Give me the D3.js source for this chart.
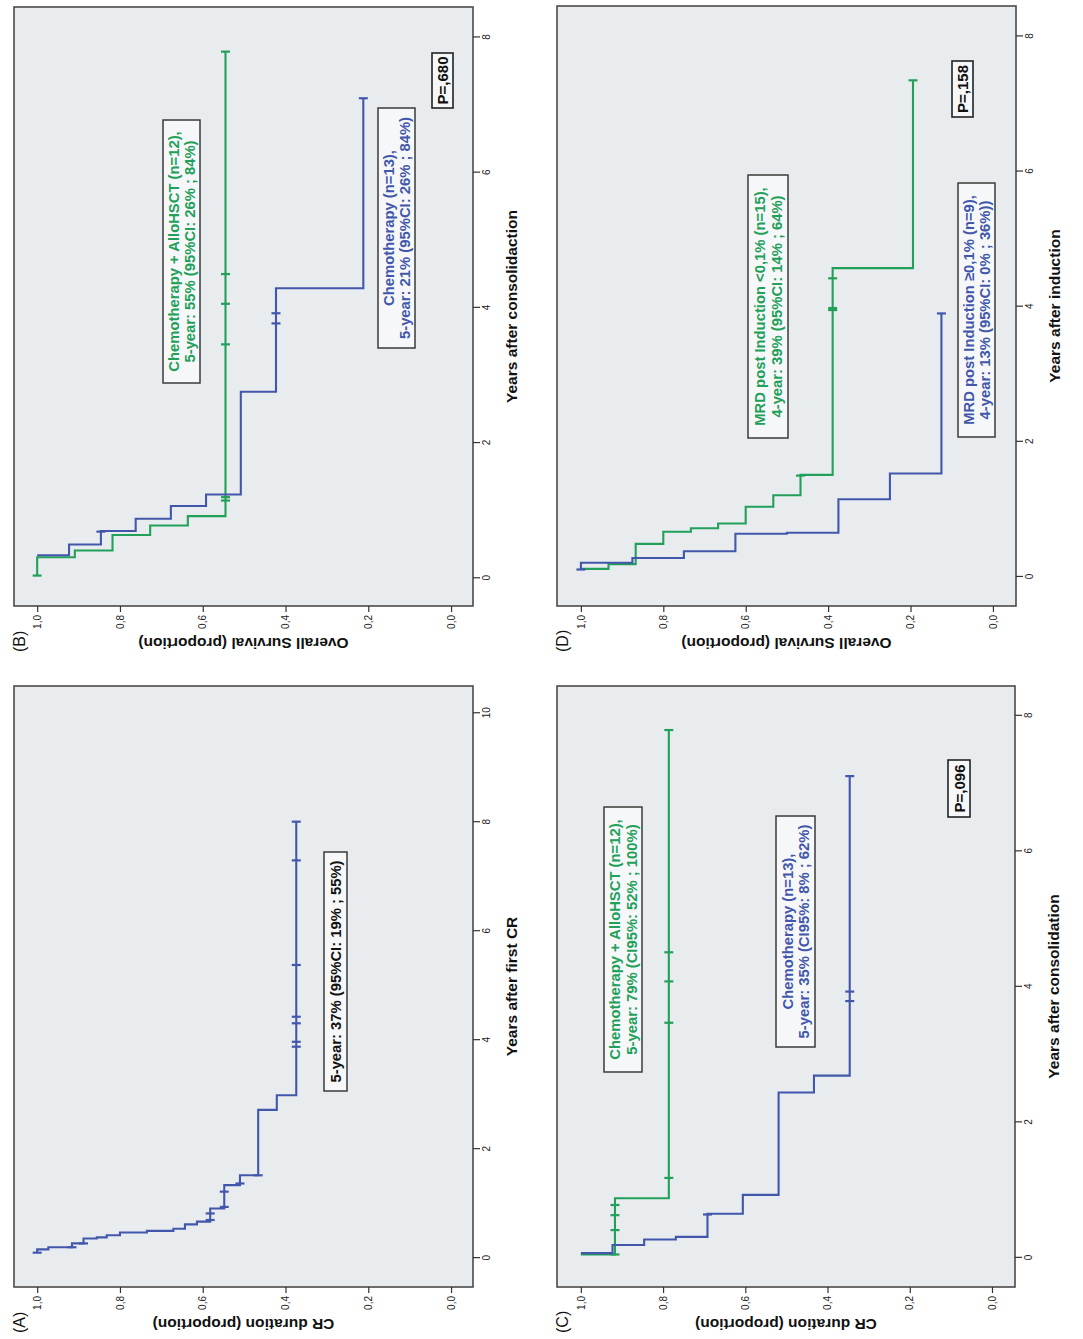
<!DOCTYPE html>
<html>
<head>
<meta charset="utf-8">
<script src="https://cdn.jsdelivr.net/npm/d3@7"></script>
<style>
  body { margin: 0; background: #fff; }
  svg { display: block; }
  text { font-family: "Liberation Sans", Arial, sans-serif; }
</style>
</head>
<body>
<svg id="fig" width="1083" height="1339"></svg>
<script>
// ---- axis ticks ----
const propTicks = [0, 0.2, 0.4, 0.6, 0.8, 1.0];
const yearTicksA = [0, 2, 4, 6, 8, 10];
const yearTicks = [0, 2, 4, 6, 8];

// ---- (A) CR duration, whole cohort: first entry is the start of the curve ----
const aTime = [0.10, 0.16, 0.20, 0.27, 0.36, 0.38, 0.42, 0.47, 0.50, 0.54, 0.62, 0.67, 0.91, 1.34, 1.52, 2.72, 2.99];
const aSurv = [1.000, 0.973, 0.916, 0.888, 0.856, 0.832, 0.800, 0.735, 0.671, 0.643, 0.614, 0.582, 0.548, 0.510, 0.466, 0.421, 0.374];
const aEnd = 8.01;
const aCensor = [0.10, 0.20, 0.27, 0.70, 0.82, 0.94, 1.22, 1.37, 1.52, 3.88, 3.97, 4.31, 4.43, 5.38, 7.30, 8.01];

// ---- (B) overall survival after consolidation ----
const bChemoTime = [0.34, 0.34, 0.50, 0.70, 0.88, 1.07, 1.24, 2.76, 4.29];
const bChemoSurv = [1.000, 0.923, 0.846, 0.762, 0.677, 0.592, 0.508, 0.423, 0.212];
const bChemoEnd = 7.10;
const bChemoCensor = [0.69, 3.77, 3.92, 7.10];
const bAlloTime = [0.04, 0.31, 0.41, 0.64, 0.78, 0.92];
const bAlloSurv = [1.000, 0.909, 0.818, 0.727, 0.636, 0.545];
const bAlloEnd = 7.79;
const bAlloCensor = [0.04, 1.15, 1.20, 3.46, 4.06, 4.50, 7.79];

// ---- (C) CR duration after consolidation ----
const cChemoTime = [0.07, 0.07, 0.19, 0.27, 0.31, 0.65, 0.93, 2.44, 2.69];
const cChemoSurv = [1.000, 0.923, 0.846, 0.769, 0.692, 0.606, 0.519, 0.433, 0.346];
const cChemoEnd = 7.11;
const cChemoCensor = [0.64, 3.79, 3.93, 7.11];
const cAlloTime = [0.05, 0.05, 0.88];
const cAlloSurv = [1.000, 0.917, 0.786];
const cAlloEnd = 7.79;
const cAlloCensor = [0.05, 0.41, 0.63, 0.78, 1.18, 3.47, 4.08, 4.51, 7.79];

// ---- (D) overall survival by MRD after induction ----
const dLowTime = [0.11, 0.12, 0.19, 0.49, 0.67, 0.72, 0.79, 1.04, 1.21, 1.51, 4.57];
const dLowSurv = [1.000, 0.933, 0.867, 0.800, 0.733, 0.667, 0.600, 0.533, 0.467, 0.389, 0.194];
const dLowEnd = 7.35;
const dLowCensor = [1.50, 3.95, 3.98, 4.42, 7.35];
const dHighTime = [0.11, 0.21, 0.28, 0.38, 0.64, 0.655, 1.15, 1.53];
const dHighSurv = [1.000, 0.875, 0.750, 0.625, 0.500, 0.375, 0.250, 0.125];
const dHighEnd = 3.90;
const dHighCensor = [0.11, 3.90];

// ---- texts ----
const aNote = ["5-year: 37% (95%CI: 19% ; 55%)"];
const bAlloNote = ["Chemotherapy + AlloHSCT (n=12),", "5-year: 55% (95%CI: 26% ; 84%)"];
const bChemoNote = ["Chemotherapy (n=13),", "5-year: 21% (95%CI: 26% ; 84%)"];
const cAlloNote = ["Chemotherapy + AlloHSCT (n=12),", "5-year: 79% (CI95%: 52% ; 100%)"];
const cChemoNote = ["Chemotherapy (n=13),", "5-year: 35% (CI95%: 8% ; 62%)"];
const dLowNote = ["MRD post Induction <0,1% (n=15),", "4-year: 39% (95%CI: 14% ; 64%)"];
const dHighNote = ["MRD post Induction \u22650,1% (n=9),", "4-year: 13% (95%CI: 0% ; 36%))"];

const BLUE = "#4257ab";
const GREEN = "#22a05a";

// the figure is laid out in a 1339 x 1083 frame and turned a quarter turn
const svg = d3.select("#fig");
const root = svg.append("g").attr("transform", "translate(0,1339) rotate(-90)");

const series = (time, surv, end, censor, color) => ({ time, surv, end, censor, color });

const panels = [
  {
    tag: "(A)", frame: { x0: 52, x1: 653, y0: 14, y1: 473 },
    tDomain: [-0.53, 10.5], pDomain: [-0.053, 1.056], ticks: yearTicksA,
    xTitle: "Years after first CR", yTitle: "CR duration (proportion)",
    curves: [series(aTime, aSurv, aEnd, aCensor, BLUE)],
    notes: [{ lines: aNote, color: "#111", box: [248, 487, 324, 347] }],
    p: null
  },
  {
    tag: "(B)", frame: { x0: 733, x1: 1332, y0: 14, y1: 473 },
    tDomain: [-0.41, 8.45], pDomain: [-0.053, 1.056], ticks: yearTicks,
    xTitle: "Years after consolidaction", yTitle: "Overall Survival (proportion)",
    curves: [series(bAlloTime, bAlloSurv, bAlloEnd, bAlloCensor, GREEN),
             series(bChemoTime, bChemoSurv, bChemoEnd, bChemoCensor, BLUE)],
    notes: [{ lines: bAlloNote, color: GREEN, box: [956, 1219, 163, 200] },
            { lines: bChemoNote, color: BLUE, box: [991, 1231, 378, 415] }],
    p: { text: "P=,680", box: [1231, 1286, 432, 453] }
  },
  {
    tag: "(C)", frame: { x0: 52, x1: 653, y0: 557, y1: 1015 },
    tDomain: [-0.43, 8.44], pDomain: [-0.056, 1.058], ticks: yearTicks,
    xTitle: "Years after consolidation", yTitle: "CR duration (proportion)",
    curves: [series(cAlloTime, cAlloSurv, cAlloEnd, cAlloCensor, GREEN),
             series(cChemoTime, cChemoSurv, cChemoEnd, cChemoCensor, BLUE)],
    notes: [{ lines: cAlloNote, color: GREEN, box: [267, 532, 604, 642] },
            { lines: cChemoNote, color: BLUE, box: [292, 523, 776, 815] }],
    p: { text: "P=,096", box: [522, 579, 948, 970] }
  },
  {
    tag: "(D)", frame: { x0: 733, x1: 1333, y0: 557, y1: 1016 },
    tDomain: [-0.43, 8.45], pDomain: [-0.056, 1.058], ticks: yearTicks,
    xTitle: "Years after induction", yTitle: "Overall Survival (proportion)",
    curves: [series(dLowTime, dLowSurv, dLowEnd, dLowCensor, GREEN),
             series(dHighTime, dHighSurv, dHighEnd, dHighCensor, BLUE)],
    notes: [{ lines: dLowNote, color: GREEN, box: [901, 1164, 748, 788] },
            { lines: dHighNote, color: BLUE, box: [902, 1156, 958, 995] }],
    p: { text: "P=,158", box: [1222, 1278, 952, 973] }
  }
];

const commaFmt = d => d3.format(".1f")(d).replace(".", ",");

panels.forEach(pn => {
  const f = pn.frame;
  const g = root.append("g");
  const x = d3.scaleLinear().domain(pn.tDomain).range([f.x0, f.x1]);
  const y = d3.scaleLinear().domain(pn.pDomain).range([f.y1, f.y0]);

  // plot area
  g.append("rect")
    .attr("x", f.x0).attr("y", f.y0)
    .attr("width", f.x1 - f.x0).attr("height", f.y1 - f.y0)
    .attr("fill", "#e9ecef").attr("stroke", "#4a4a4a").attr("stroke-width", 1.6);

  // axes
  const gx = g.append("g").attr("transform", `translate(0,${f.y1})`)
    .call(d3.axisBottom(x).tickValues(pn.ticks).tickSize(7).tickPadding(3).tickFormat(d3.format("d")));
  const gy = g.append("g").attr("transform", `translate(${f.x0},0)`)
    .call(d3.axisLeft(y).tickValues(propTicks).tickSize(6).tickPadding(3).tickFormat(commaFmt));
  [gx, gy].forEach(a => {
    a.select(".domain").remove();
    a.selectAll(".tick line").attr("stroke", "#333").attr("stroke-width", 1.2);
    a.selectAll(".tick text").attr("fill", "#222").style("font-size", "10px")
      .style("font-family", '"Liberation Sans", Arial, sans-serif');
  });

  // axis titles
  g.append("text")
    .attr("x", (f.x0 + f.x1) / 2).attr("y", f.y1 + 44)
    .attr("text-anchor", "middle").attr("font-weight", "bold").attr("font-size", 15.5)
    .attr("fill", "#111").text(pn.xTitle);
  g.append("text")
    .attr("transform", `translate(${f.x0 - 32},${(f.y0 + f.y1) / 2}) rotate(-90)`)
    .attr("text-anchor", "middle").attr("font-weight", "bold").attr("font-size", 15.5)
    .attr("fill", "#111").text(pn.yTitle);

  // panel tag
  g.append("text")
    .attr("x", f.x0 - 46).attr("y", f.y0 + 11)
    .attr("font-size", 16).attr("fill", "#111").text(pn.tag);

  // step curves
  const line = d3.line().x(d => x(d[0])).y(d => y(d[1])).curve(d3.curveStepAfter);
  pn.curves.forEach(c => {
    const pts = c.time.map((t, i) => [t, c.surv[i]]);
    pts.push([c.end, c.surv[c.surv.length - 1]]);
    g.append("path").datum(pts)
      .attr("d", line).attr("fill", "none")
      .attr("stroke", c.color).attr("stroke-width", 2.1);
    // censor ticks sit on the step level in force at that time
    g.append("g").selectAll("line").data(c.censor).join("line")
      .each(function (t) {
        const s = c.surv[Math.max(0, d3.bisectRight(c.time, t) - 1)];
        d3.select(this)
          .attr("x1", x(t)).attr("x2", x(t))
          .attr("y1", y(s) - 4.5).attr("y2", y(s) + 4.5);
      })
      .attr("stroke", c.color).attr("stroke-width", 2.2);
  });

  // annotation boxes
  pn.notes.forEach(n => {
    const [bx0, bx1, by0, by1] = n.box;
    g.append("rect")
      .attr("x", bx0).attr("y", by0).attr("width", bx1 - bx0).attr("height", by1 - by0)
      .attr("fill", "#f6f7f8").attr("stroke", "#3a3a3a").attr("stroke-width", 1.5);
    const cx = (bx0 + bx1) / 2, cy = (by0 + by1) / 2;
    const lh = 16.5;
    n.lines.forEach((txt, i) => {
      const off = (i - (n.lines.length - 1) / 2) * lh;
      g.append("text")
        .attr("x", cx).attr("y", cy + off + 5.3)
        .attr("text-anchor", "middle").attr("font-size", 14.8)
        .attr("font-weight", "bold")
        .attr("fill", n.color).text(txt);
    });
  });

  if (pn.p) {
    const [bx0, bx1, by0, by1] = pn.p.box;
    g.append("rect")
      .attr("x", bx0).attr("y", by0).attr("width", bx1 - bx0).attr("height", by1 - by0)
      .attr("fill", "#f6f7f8").attr("stroke", "#222").attr("stroke-width", 1.6);
    g.append("text")
      .attr("x", (bx0 + bx1) / 2).attr("y", (by0 + by1) / 2 + 5.5)
      .attr("text-anchor", "middle").attr("font-size", 15).attr("font-weight", "bold")
      .attr("fill", "#111").text(pn.p.text);
  }
});
</script>
</body>
</html>
